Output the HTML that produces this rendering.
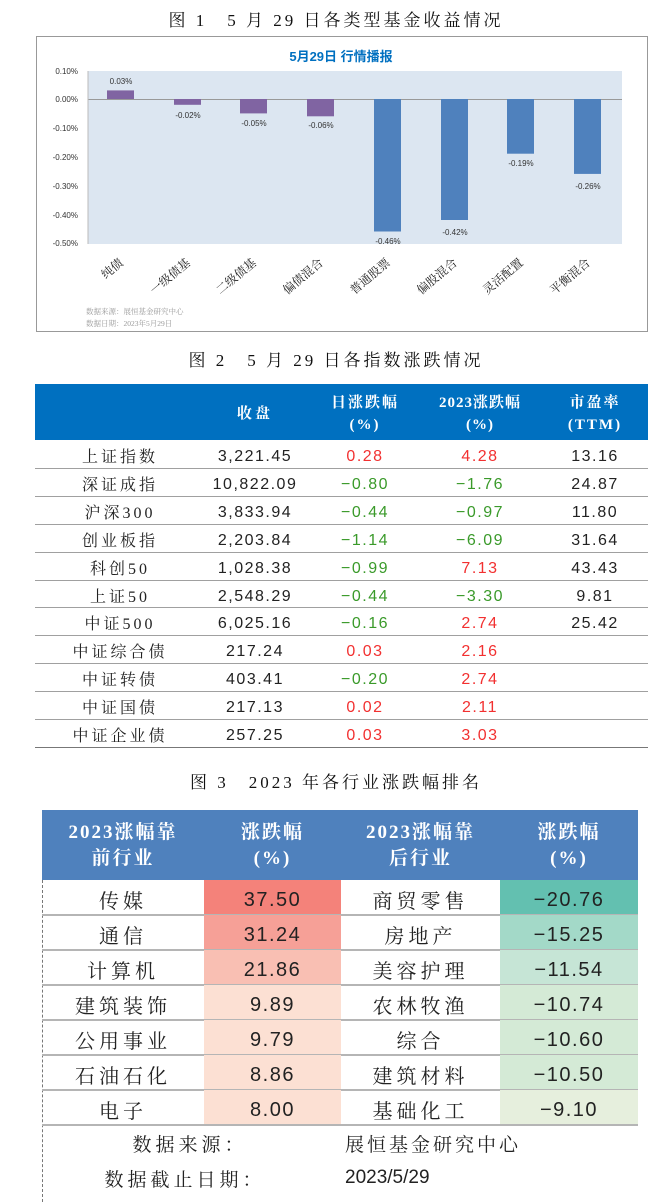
<!DOCTYPE html>
<html><head><meta charset="utf-8"><style>
*{margin:0;padding:0;box-sizing:border-box}
body{width:672px;height:1202px;background:#fff;position:relative;overflow:hidden;font-family:"Liberation Sans","Noto Serif CJK SC",serif;color:#222}
.a{position:absolute}
.cap{position:absolute;left:0;width:672px;text-align:center;font-family:"Liberation Serif","Noto Serif CJK SC",serif;font-size:17px;letter-spacing:3px;color:#111}
.c{position:absolute;text-align:center;white-space:nowrap}
.cj{font-family:"Liberation Serif","Noto Serif CJK SC",serif}
.num{font-family:"Liberation Sans","Noto Sans CJK SC",sans-serif;letter-spacing:1.5px}
.red{color:#f23030}.grn{color:#3a9a2a}
.hl{position:absolute;height:1px;background:#a0a0a0}
</style></head><body>
<div class="cap" style="top:6px">图 1　5 月 29 日各类型基金收益情况</div>
<div class="a" style="left:36px;top:36px;width:612px;height:296px;border:1px solid #999"></div>
<svg class="a" style="left:0;top:0" width="672" height="340">
<rect x="88" y="71" width="534" height="173" fill="#dce6f1"/>
<text x="341" y="61" font-size="13" font-weight="bold" fill="#0070c0" text-anchor="middle" font-family="Liberation Sans,Noto Sans CJK SC,sans-serif">5月29日  行情播报</text>
<g font-size="8" fill="#333" font-family="Liberation Sans,sans-serif" text-anchor="end">
<text x="78" y="74">0.10%</text><text x="78" y="102">0.00%</text><text x="78" y="131">-0.10%</text><text x="78" y="160">-0.20%</text><text x="78" y="189">-0.30%</text><text x="78" y="218">-0.40%</text><text x="78" y="246">-0.50%</text></g>
<line x1="88" y1="99.5" x2="622" y2="99.5" stroke="#999" stroke-width="1"/>
<line x1="88" y1="71" x2="88" y2="244" stroke="#bbb"/>
<g fill="#8064a2"><rect x="107" y="90.4" width="27" height="8.6"/><rect x="174" y="99" width="27" height="5.8"/><rect x="240" y="99" width="27" height="14.4"/><rect x="307" y="99" width="27" height="17.3"/></g>
<g fill="#4f81bd"><rect x="374" y="99" width="27" height="132.5"/><rect x="441" y="99" width="27" height="121"/><rect x="507" y="99" width="27" height="54.7"/><rect x="574" y="99" width="27" height="74.9"/></g>
<g font-size="8" fill="#333" font-family="Liberation Sans,sans-serif" text-anchor="middle">
<text x="121" y="84">0.03%</text><text x="188" y="118">-0.02%</text><text x="254" y="126">-0.05%</text><text x="321" y="128">-0.06%</text><text x="388" y="244">-0.46%</text><text x="455" y="235">-0.42%</text><text x="521" y="166">-0.19%</text><text x="588" y="189">-0.26%</text></g>
<g font-size="12" fill="#222" font-family="Liberation Serif,Noto Serif CJK SC,serif" text-anchor="end">
<text transform="translate(124,264) rotate(-40)">纯债</text>
<text transform="translate(191,264) rotate(-40)">一级债基</text>
<text transform="translate(257,264) rotate(-40)">二级债基</text>
<text transform="translate(324,264) rotate(-40)">偏债混合</text>
<text transform="translate(391,264) rotate(-40)">普通股票</text>
<text transform="translate(458,264) rotate(-40)">偏股混合</text>
<text transform="translate(524,264) rotate(-40)">灵活配置</text>
<text transform="translate(591,264) rotate(-40)">平衡混合</text></g>
<g font-size="7.5" fill="#999" font-family="Liberation Serif,Noto Serif CJK SC,serif">
<text x="86" y="314">数据来源：展恒基金研究中心</text><text x="86" y="326">数据日期：2023年5月29日</text></g>
</svg>

<div class="cap" style="top:346px">图 2　5 月 29 日各指数涨跌情况</div>
<div class="a" style="left:35px;top:384px;width:613px;height:56px;background:#0070c0"></div>
<div class="c cj" style="left:205px;width:100px;top:402px;color:#fff;font-size:15px;font-weight:bold;letter-spacing:3px">收盘</div>
<div class="c cj" style="left:310px;width:110px;top:392px;color:#fff;font-size:15px;font-weight:bold;letter-spacing:2px;line-height:22px">日涨跌幅<br>(%)</div>
<div class="c cj" style="left:420px;width:120px;top:392px;color:#fff;font-size:15px;font-weight:bold;letter-spacing:1px;line-height:22px">2023涨跌幅<br>(%)</div>
<div class="c cj" style="left:545px;width:100px;top:392px;color:#fff;font-size:15px;font-weight:bold;letter-spacing:2px;line-height:22px">市盈率<br>(TTM)</div>
<div id="t2"></div>

<div class="cap" style="top:768px">图 3　2023 年各行业涨跌幅排名</div>
<div class="a" style="left:42px;top:810px;width:596px;height:70px;background:#4f81bd"></div>
<div class="c cj" style="left:42px;width:162px;top:820px;color:#fff;font-size:19px;font-weight:bold;letter-spacing:2px;line-height:26px">2023涨幅靠<br>前行业</div>
<div class="c cj" style="left:204px;width:137px;top:820px;color:#fff;font-size:19px;font-weight:bold;letter-spacing:2px;line-height:26px">涨跌幅<br>(%)</div>
<div class="c cj" style="left:341px;width:159px;top:820px;color:#fff;font-size:19px;font-weight:bold;letter-spacing:2px;line-height:26px">2023涨幅靠<br>后行业</div>
<div class="c cj" style="left:500px;width:138px;top:820px;color:#fff;font-size:19px;font-weight:bold;letter-spacing:2px;line-height:26px">涨跌幅<br>(%)</div>
<div class="a" style="left:42px;top:880px;height:322px;border-left:1px dashed #777"></div>
<div id="t3"></div>
<div class="c cj" style="left:110px;width:160px;top:1130px;font-size:19px;letter-spacing:4px">数据来源：</div>
<div class="c cj" style="left:345px;width:200px;top:1130px;font-size:19px;letter-spacing:3px;text-align:left">展恒基金研究中心</div>
<div class="c cj" style="left:95px;width:180px;top:1165px;font-size:19px;letter-spacing:4px">数据截止日期：</div>
<div class="c num" style="left:345px;top:1167px;font-size:19px;letter-spacing:0">2023/5/29</div>
<script>
var r2=[["上证指数","3,221.45","0.28","4.28","13.16"],["深证成指","10,822.09","-0.80","-1.76","24.87"],["沪深300","3,833.94","-0.44","-0.97","11.80"],["创业板指","2,203.84","-1.14","-6.09","31.64"],["科创50","1,028.38","-0.99","7.13","43.43"],["上证50","2,548.29","-0.44","-3.30","9.81"],["中证500","6,025.16","-0.16","2.74","25.42"],["中证综合债","217.24","0.03","2.16",""],["中证转债","403.41","-0.20","2.74",""],["中证国债","217.13","0.02","2.11",""],["中证企业债","257.25","0.03","3.03",""]];
var h="";r2.forEach(function(r,i){var y=440+i*27.9;
function cl(v){return v.charAt(0)=="-"?"grn":"red"}
h+='<div class="c cj" style="left:50px;width:140px;top:'+(y+4)+'px;font-size:16px;letter-spacing:3px">'+r[0]+'</div>';
h+='<div class="c num" style="left:195px;width:120px;top:'+(y+8)+'px;font-size:16px">'+r[1]+'</div>';
h+='<div class="c num '+cl(r[2])+'" style="left:310px;width:110px;top:'+(y+8)+'px;font-size:16px">'+r[2].replace("-","−")+'</div>';
h+='<div class="c num '+cl(r[3])+'" style="left:425px;width:110px;top:'+(y+8)+'px;font-size:16px">'+r[3].replace("-","−")+'</div>';
h+='<div class="c num" style="left:545px;width:100px;top:'+(y+8)+'px;font-size:16px">'+r[4]+'</div>';
h+='<div class="hl" style="left:35px;width:613px;top:'+Math.round(y+27.9)+'px;'+(i==10?'background:#777':'')+'"></div>';});
document.getElementById("t2").innerHTML=h;
var r3=[["传媒","37.50","#f4827a","商贸零售","-20.76","#63c0b0"],["通信","31.24","#f6a097","房地产","-15.25","#a3d9c8"],["计算机","21.86","#f9bfb3","美容护理","-11.54","#c6e5d6"],["建筑装饰","9.89","#fce0d3","农林牧渔","-10.74","#d4ead6"],["公用事业","9.79","#fce0d3","综合","-10.60","#d4ead6"],["石油石化","8.86","#fce0d3","建筑材料","-10.50","#d4ead6"],["电子","8.00","#fce0d3","基础化工","-9.10","#e6efdd"]];
h="";r3.forEach(function(r,i){var y=880+i*35;
h+='<div class="a" style="left:204px;width:137px;top:'+y+'px;height:35px;background:'+r[2]+'"></div>';
h+='<div class="a" style="left:500px;width:138px;top:'+y+'px;height:35px;background:'+r[5]+'"></div>';
h+='<div class="c cj" style="left:42px;width:162px;top:'+(y+5)+'px;font-size:20px;letter-spacing:4px">'+r[0]+'</div>';
h+='<div class="c num" style="left:204px;width:137px;top:'+(y+9)+'px;font-size:20px">'+r[1]+'</div>';
h+='<div class="c cj" style="left:341px;width:159px;top:'+(y+5)+'px;font-size:20px;letter-spacing:4px">'+r[3]+'</div>';
h+='<div class="c num" style="left:500px;width:138px;top:'+(y+9)+'px;font-size:20px">'+r[4].replace("-","−")+'</div>';
h+='<div class="hl" style="left:42px;width:596px;top:'+(y+34)+'px;height:2px;background:#b5b5b5"></div>';});
document.getElementById("t3").innerHTML=h;
</script>
</body></html>
